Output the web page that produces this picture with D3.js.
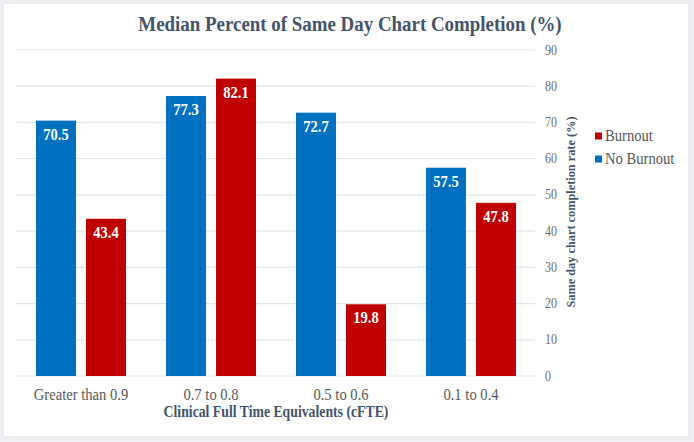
<!DOCTYPE html>
<html>
<head>
<meta charset="utf-8">
<script src="https://cdn.jsdelivr.net/npm/d3@7"></script>
<style>
  html, body { margin: 0; padding: 0; background: #eef0f3; }
  svg { display: block; }
</style>
</head>
<body>
<svg id="chart" width="694" height="442"></svg>
<script>
// chart data
const categories = ['Greater than 0.9', '0.7 to 0.8', '0.5 to 0.6', '0.1 to 0.4'];
const seriesNames = ['No Burnout', 'Burnout'];
const noBurnout = [70.5, 77.3, 72.7, 57.5];
const burnout = [43.4, 82.1, 19.8, 47.8];
const yTicks = [0, 10, 20, 30, 40, 50, 60, 70, 80, 90];
const legendOrder = ['Burnout', 'No Burnout'];

const colors = { 'No Burnout': '#0070c0', 'Burnout': '#c00000' };
const squeeze = 0.86; // the picture is a bit narrower than tall
const serif = "'Liberation Serif', 'Times New Roman', Times, 'DejaVu Serif', serif";

const svg = d3.select('#chart');

// card
svg.append('rect')
    .attr('x', 3).attr('y', 3)
    .attr('width', 686).attr('height', 434)
    .attr('fill', '#fff')
    .attr('stroke', '#dfe3e8')
    .attr('stroke-width', 1);

const y = d3.scaleLinear().domain([0, 90]).range([376, 50]);
const x0 = d3.scaleBand().domain(categories).range([16, 536]);
const x1 = d3.scaleBand().domain(seriesNames).range([0, x0.bandwidth()])
    .paddingInner(0.2).paddingOuter(0.4);

// helper to place text squeezed horizontally
function label(g, px, py, txt, opts) {
    return g.append('text')
        .attr('transform', `translate(${px},${py}) scale(${squeeze},1)`)
        .attr('text-anchor', opts.anchor || 'middle')
        .style('font-family', serif)
        .attr('font-size', opts.size)
        .attr('font-weight', opts.bold ? 'bold' : 'normal')
        .attr('fill', opts.color)
        .text(txt);
}

// gridlines
svg.append('g')
    .selectAll('line')
    .data(yTicks)
    .join('line')
    .attr('x1', 16).attr('x2', 535)
    .attr('y1', d => y(d)).attr('y2', d => y(d))
    .attr('stroke', '#e2e6ec')
    .attr('stroke-width', 1.2);

// right axis tick labels
const axisG = svg.append('g');
yTicks.forEach(t => label(axisG, 545, y(t) + 4.5, t, { anchor: 'start', size: 14, color: '#6b6b6b' }));

// bars
const rows = categories.map((c, i) => ({ cat: c, vals: [
    { s: 'No Burnout', v: noBurnout[i] },
    { s: 'Burnout', v: burnout[i] }
]}));

const groups = svg.append('g')
    .selectAll('g')
    .data(rows)
    .join('g')
    .attr('transform', d => `translate(${x0(d.cat)},0)`);

groups.selectAll('rect')
    .data(d => d.vals)
    .join('rect')
    .attr('x', d => x1(d.s))
    .attr('y', d => y(d.v))
    .attr('width', x1.bandwidth())
    .attr('height', d => y(0) - y(d.v))
    .attr('fill', d => colors[d.s]);

groups.each(function(d) {
    const g = d3.select(this);
    d.vals.forEach(b => {
        label(g, x1(b.s) + x1.bandwidth() / 2, y(b.v) + 19, b.v.toFixed(1),
            { size: 17, bold: true, color: '#fff' });
    });
});

// category labels
const catG = svg.append('g');
categories.forEach(c => label(catG, x0(c) + x0.bandwidth() / 2, 400, c, { size: 17, color: '#595959' }));

// axis titles
label(svg, 276, 417, 'Clinical Full Time Equivalents (cFTE)', { size: 16, bold: true, color: '#44546a' });

svg.append('text')
    .attr('transform', 'translate(575,212) rotate(-90)')
    .attr('text-anchor', 'middle')
    .style('font-family', serif)
    .attr('font-size', 13)
    .attr('font-weight', 'bold')
    .attr('fill', '#44546a')
    .attr('textLength', 191)
    .attr('lengthAdjust', 'spacingAndGlyphs')
    .text('Same day chart completion rate (%)');

// title
label(svg, 350, 31, 'Median Percent of Same Day Chart Completion (%)', { size: 22, bold: true, color: '#44546a' });

// legend
const leg = svg.append('g');
legendOrder.forEach((s, i) => {
    const ly = 136 + i * 23;
    leg.append('rect')
        .attr('x', 595).attr('y', ly - 3.5)
        .attr('width', 7).attr('height', 7)
        .attr('fill', colors[s]);
    label(leg, 605, ly + 5, s, { anchor: 'start', size: 17, color: '#595959' });
});
</script>
</body>
</html>
